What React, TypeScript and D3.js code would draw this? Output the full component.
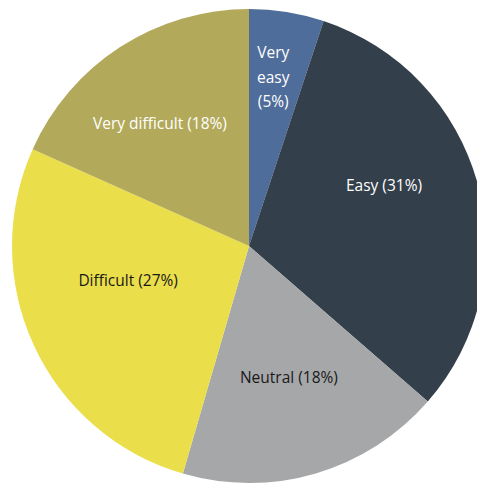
import React from "react";
import * as d3 from "d3";

const categories = ["Very easy", "Easy", "Neutral", "Difficult", "Very difficult"];
const values = [5.1, 31.3, 18.1, 27.2, 18.3];
const percentLabels = ["5%", "31%", "18%", "27%", "18%"];
const colors = ["#4f6d9a", "#333f4a", "#a6a7a9", "#ebde4b", "#b2a95a"];
const textColors = ["#ffffff", "#ffffff", "#1a1a1a", "#1a1a1a", "#ffffff"];
// label placement: radius factor and angular nudge (degrees)
const labelRadius = [0.72, 0.625, 0.58, 0.53, 0.64];
const labelNudge = [-1, -9, -0.5, 9, -3];
const labelLines = [["Very", "easy", "(5%)"], null, null, null, null];

const W = 477;
const H = 484;
const CX = 249;
const CY = 246;
const R = 237;

export default function App() {
  const pie = d3.pie<number>().sort(null).value((d) => d);
  const arcs = pie(values);
  const arc = d3.arc<d3.PieArcDatum<number>>().innerRadius(0).outerRadius(R);

  return (
    <svg
      width={W}
      height={H}
      style={{ position: "absolute", left: 0, top: 0, background: "#fff" }}
    >
      <g transform={`translate(${CX},${CY})`}>
        {arcs.map((a, i) => (
          <path key={i} d={arc(a) || ""} fill={colors[i]} />
        ))}
        {arcs.map((a, i) => {
          const mid = (a.startAngle + a.endAngle) / 2 + (labelNudge[i] * Math.PI) / 180;
          const r = R * labelRadius[i];
          const x = Math.sin(mid) * r;
          const y = -Math.cos(mid) * r;
          const lines = labelLines[i] || [`${categories[i]} (${percentLabels[i]})`];
          const lh = 24.5;
          return (
            <text
              key={"t" + i}
              x={x}
              y={y}
              textAnchor="middle"
              fill={textColors[i]}
              fontFamily="'Open Sans', sans-serif"
              fontSize={15.5}
            >
              {lines.map((ln, j) => (
                <tspan
                  key={j}
                  x={x}
                  dy={j === 0 ? (-(lines.length - 1) * lh) / 2 + 5.5 : lh}
                >
                  {ln}
                </tspan>
              ))}
            </text>
          );
        })}
      </g>
    </svg>
  );
}
